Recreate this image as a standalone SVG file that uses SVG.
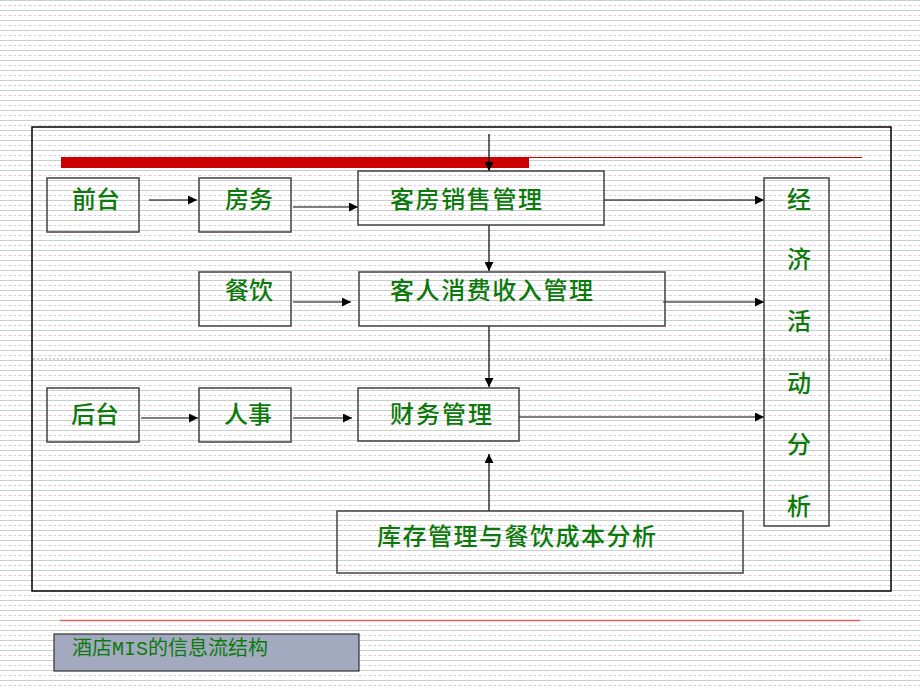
<svg xmlns="http://www.w3.org/2000/svg" width="920" height="690" viewBox="0 0 920 690">
<defs>
<pattern id="stripes" x="0" y="0" width="10" height="10" patternUnits="userSpaceOnUse">
<rect width="10" height="10" fill="#ffffff"/>
<line x1="0" y1="0.5" x2="10" y2="0.5" stroke="#c9cfc9" stroke-width="1"/>
<line x1="0" y1="5.5" x2="10" y2="5.5" stroke="#e3cde3" stroke-width="1" stroke-dasharray="2,2"/>
</pattern>
<marker id="ah" viewBox="0 0 10 10" refX="10" refY="5" markerWidth="9" markerHeight="9" markerUnits="userSpaceOnUse" orient="auto">
<path d="M0,0 L10,5 L0,10 z" fill="#000"/>
</marker>
<style>
.box{fill:none;stroke:#404040;stroke-width:1.5}
.t{font-family:"Noto Sans CJK SC","Noto Sans CJK JP",sans-serif;font-size:24px;font-weight:500;fill:#0b7a0b}
.c{stroke:#000;stroke-width:1.2;fill:none;marker-end:url(#ah)}
</style>
</defs>
<rect width="920" height="690" fill="url(#stripes)"/>
<rect x="32" y="127" width="859" height="464" fill="none" stroke="#000" stroke-width="1.5"/>
<rect x="61" y="157" width="468" height="11" fill="#cc0000"/>
<line x1="529" y1="157.5" x2="862" y2="157.5" stroke="#cc0000" stroke-width="1"/>
<line x1="33" y1="359" x2="890" y2="359" stroke="#a0a8a8" stroke-width="1" stroke-dasharray="2,2"/>
<line x1="60" y1="620.5" x2="860" y2="620.5" stroke="#e06060" stroke-width="1.5"/>

<g id="connectors">
<line class="c" x1="489" y1="134" x2="489" y2="171"/>
<line class="c" x1="149" y1="200" x2="197" y2="200"/>
<line class="c" x1="293" y1="207" x2="358" y2="207"/>
<line class="c" x1="604" y1="200" x2="764" y2="200"/>
<line class="c" x1="489" y1="225" x2="489" y2="271"/>
<line class="c" x1="293" y1="302" x2="351" y2="302"/>
<line class="c" x1="663" y1="302" x2="764" y2="302"/>
<line class="c" x1="489" y1="326" x2="489" y2="387"/>
<line class="c" x1="141" y1="418" x2="198" y2="418"/>
<line class="c" x1="293" y1="418" x2="352" y2="418"/>
<line class="c" x1="519" y1="417" x2="764" y2="417"/>
<line class="c" x1="489" y1="511" x2="489" y2="454"/>
</g>

<g id="qiantai"><rect class="box" x="47" y="178" width="92" height="54"/><text class="t" x="72" y="208">前台</text></g>
<g id="fangwu"><rect class="box" x="199" y="178" width="92" height="54"/><text class="t" x="225" y="208">房务</text></g>
<g id="kefang"><rect class="box" x="358" y="171" width="246" height="54"/><text class="t" x="390" y="208" textLength="152">客房销售管理</text></g>
<g id="canyin"><rect class="box" x="199" y="272" width="92" height="54"/><text class="t" x="225" y="299">餐饮</text></g>
<g id="keren"><rect class="box" x="359" y="272" width="306" height="54"/><text class="t" x="390" y="299" textLength="203">客人消费收入管理</text></g>
<g id="houtai"><rect class="box" x="47" y="388" width="92" height="54"/><text class="t" x="71" y="423">后台</text></g>
<g id="renshi"><rect class="box" x="199" y="388" width="92" height="54"/><text class="t" x="224" y="423">人事</text></g>
<g id="caiwu"><rect class="box" x="358" y="388" width="161" height="53"/><text class="t" x="390" y="423" textLength="102">财务管理</text></g>
<g id="kucun"><rect class="box" x="337" y="511" width="406" height="62"/><text class="t" x="377" y="545" textLength="279">库存管理与餐饮成本分析</text></g>
<g id="jingji"><rect class="box" x="764" y="178" width="65" height="348"/>
<text class="t" x="799" y="208" text-anchor="middle">经</text>
<text class="t" x="799" y="268" text-anchor="middle">济</text>
<text class="t" x="799" y="330" text-anchor="middle">活</text>
<text class="t" x="799" y="392" text-anchor="middle">动</text>
<text class="t" x="799" y="453" text-anchor="middle">分</text>
<text class="t" x="799" y="515" text-anchor="middle">析</text>
</g>
<g id="footer"><rect x="54" y="634" width="305" height="37" fill="#a3aac0" stroke="#303030" stroke-width="1.2"/>
<text x="72" y="655" font-family="'Noto Sans CJK SC',serif" font-size="20" fill="#0b7a0b">酒店<tspan font-family="'Liberation Mono',monospace">MIS</tspan>的信息流结构</text></g>
</svg>
